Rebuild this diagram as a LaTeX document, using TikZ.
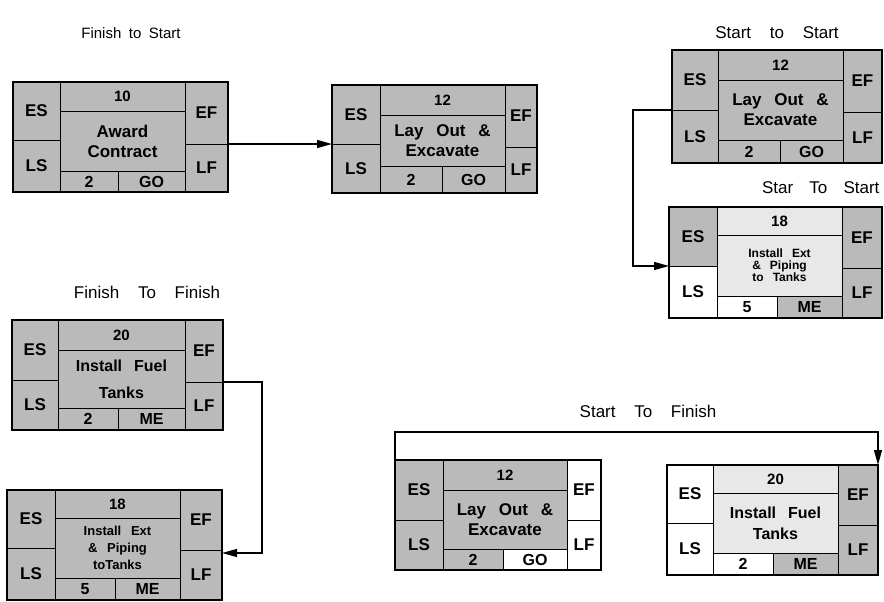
\documentclass[tikz,border=0pt]{standalone}
\usepackage{fontspec}
\setmainfont{Liberation Sans}
\usetikzlibrary{arrows.meta}
\newcommand\fsz[2]{\fontsize{#1}{#2}\selectfont\spaceskip=0.75em plus 0.1em\relax}
\newcommand\labf{\bfseries\fsz{17}{17}}
\newcommand\numf{\bfseries\fsz{15}{15}}
\newcommand\durf{\bfseries\fsz{16}{16}}
\newcommand\descf{\bfseries\fsz{17}{20}}
\newcommand\smallf{\bfseries\fsz{12}{12}}
\newcommand\smallfb{\bfseries\fsz{13}{17}}
\newcommand\fuelf{\bfseries\fsz{16}{27}}
\newcommand\fuelfb{\bfseries\fsz{16}{21}}
\newcommand\titf{\fontsize{17}{19}\selectfont\spaceskip=1.1em plus 0.1em\relax}
\newcommand\titnf{\fontsize{17}{19}\selectfont\spaceskip=0.95em plus 0.1em\relax}
\newcommand\titsf{\fontsize{15}{17}\selectfont\spaceskip=0.5em plus 0.1em\relax}
\colorlet{cellgray}{black!27}
\colorlet{celllite}{black!9}
\newcommand\cellnode[7]{\node[cellst,#1,minimum width=#5pt,minimum height=#6pt] (#2) at (#3,#4) {#7};}
\begin{document}
\begin{tikzpicture}[x=1pt,y=-1pt,
  cellst/.style={draw,line width=0.9pt,anchor=north west,inner sep=0pt,outer sep=0pt,align=center},
  outerst/.style={draw,line width=1.8pt,anchor=north west,inner sep=0pt,outer sep=0pt},
  conn/.style={line width=1.4pt,-{Triangle[length=15pt,width=8pt]}},
  title/.style={font=\titf}]
\useasboundingbox (0,0) rectangle (884,602);
% titles
\node[font=\titsf] (t1) at (131,33) {Finish to Start};
\node[title] (t2) at (777,33) {Start to Start};
\node[font=\titnf,anchor=east] (t3) at (883,188) {Star To Start};
\node[title] (t4) at (147,292) {Finish To Finish};
\node[title] (t5) at (648,411) {Start To Finish};
% Box A
\cellnode{fill=cellgray,font=\labf}{A-es}{13}{82}{47}{58}{ES}
\cellnode{fill=cellgray,font=\labf}{A-ls}{13}{140}{47}{52}{LS}
\cellnode{fill=cellgray,font=\numf}{A-num}{60}{82}{125}{29}{10}
\cellnode{fill=cellgray,font=\descf}{A-desc}{60}{111}{125}{60}{Award\\Contract}
\cellnode{fill=cellgray,font=\durf}{A-dur}{60}{171}{58}{21}{2}
\cellnode{fill=cellgray,font=\durf}{A-resp}{118}{171}{67}{21}{GO}
\cellnode{fill=cellgray,font=\labf}{A-ef}{185}{82}{43}{62}{EF}
\cellnode{fill=cellgray,font=\labf}{A-lf}{185}{144}{43}{48}{LF}
\node[outerst,minimum width=215pt,minimum height=110pt] (A) at (13,82) {};
% Box B
\cellnode{fill=cellgray,font=\labf}{B-es}{332}{85}{48}{59}{ES}
\cellnode{fill=cellgray,font=\labf}{B-ls}{332}{144}{48}{49}{LS}
\cellnode{fill=cellgray,font=\numf}{B-num}{380}{85}{125}{30}{12}
\cellnode{fill=cellgray,font=\descf}{B-desc}{380}{115}{125}{51}{Lay Out \&\\Excavate}
\cellnode{fill=cellgray,font=\durf}{B-dur}{380}{166}{62}{27}{2}
\cellnode{fill=cellgray,font=\durf}{B-resp}{442}{166}{63}{27}{GO}
\cellnode{fill=cellgray,font=\labf}{B-ef}{505}{85}{32}{62}{EF}
\cellnode{fill=cellgray,font=\labf}{B-lf}{505}{147}{32}{46}{LF}
\node[outerst,minimum width=205pt,minimum height=108pt] (B) at (332,85) {};
% Box C
\cellnode{fill=cellgray,font=\labf}{C-es}{672}{50}{46}{60}{ES}
\cellnode{fill=cellgray,font=\labf}{C-ls}{672}{110}{46}{53}{LS}
\cellnode{fill=cellgray,font=\numf}{C-num}{718}{50}{125}{30}{12}
\cellnode{fill=cellgray,font=\descf}{C-desc}{718}{80}{125}{60}{Lay Out \&\\Excavate}
\cellnode{fill=cellgray,font=\durf}{C-dur}{718}{140}{62}{23}{2}
\cellnode{fill=cellgray,font=\durf}{C-resp}{780}{140}{63}{23}{GO}
\cellnode{fill=cellgray,font=\labf}{C-ef}{843}{50}{39}{62}{EF}
\cellnode{fill=cellgray,font=\labf}{C-lf}{843}{112}{39}{51}{LF}
\node[outerst,minimum width=210pt,minimum height=113pt] (C) at (672,50) {};
% Box D
\cellnode{fill=cellgray,font=\labf}{D-es}{669}{207}{48}{59}{ES}
\cellnode{fill=white,font=\labf}{D-ls}{669}{266}{48}{52}{LS}
\cellnode{fill=celllite,font=\numf}{D-num}{717}{207}{125}{28}{18}
\cellnode{fill=celllite,font=\smallf}{D-desc}{717}{235}{125}{61}{Install Ext\\\& Piping\\to Tanks}
\cellnode{fill=white,font=\durf}{D-dur}{717}{296}{60}{22}{5}
\cellnode{fill=cellgray,font=\durf}{D-resp}{777}{296}{65}{22}{ME}
\cellnode{fill=cellgray,font=\labf}{D-ef}{842}{207}{40}{61}{EF}
\cellnode{fill=cellgray,font=\labf}{D-lf}{842}{268}{40}{50}{LF}
\node[outerst,minimum width=213pt,minimum height=111pt] (D) at (669,207) {};
% Box E
\cellnode{fill=cellgray,font=\labf}{E-es}{12}{320}{46}{60}{ES}
\cellnode{fill=cellgray,font=\labf}{E-ls}{12}{380}{46}{50}{LS}
\cellnode{fill=cellgray,font=\numf}{E-num}{58}{320}{127}{30}{20}
\cellnode{fill=cellgray,font=\fuelf}{E-desc}{58}{350}{127}{58}{Install Fuel\\Tanks}
\cellnode{fill=cellgray,font=\durf}{E-dur}{58}{408}{60}{22}{2}
\cellnode{fill=cellgray,font=\durf}{E-resp}{118}{408}{67}{22}{ME}
\cellnode{fill=cellgray,font=\labf}{E-ef}{185}{320}{38}{62}{EF}
\cellnode{fill=cellgray,font=\labf}{E-lf}{185}{382}{38}{48}{LF}
\node[outerst,minimum width=211pt,minimum height=110pt] (E) at (12,320) {};
% Box F
\cellnode{fill=cellgray,font=\labf}{F-es}{7}{490}{48}{58}{ES}
\cellnode{fill=cellgray,font=\labf}{F-ls}{7}{548}{48}{52}{LS}
\cellnode{fill=cellgray,font=\numf}{F-num}{55}{490}{125}{28}{18}
\cellnode{fill=cellgray,font=\smallfb}{F-desc}{55}{518}{125}{60}{Install Ext\\\& Piping\\toTanks}
\cellnode{fill=cellgray,font=\durf}{F-dur}{55}{578}{60}{22}{5}
\cellnode{fill=cellgray,font=\durf}{F-resp}{115}{578}{65}{22}{ME}
\cellnode{fill=cellgray,font=\labf}{F-ef}{180}{490}{42}{60}{EF}
\cellnode{fill=cellgray,font=\labf}{F-lf}{180}{550}{42}{50}{LF}
\node[outerst,minimum width=215pt,minimum height=110pt] (F) at (7,490) {};
% Box G
\cellnode{fill=cellgray,font=\labf}{G-es}{395}{460}{48}{60}{ES}
\cellnode{fill=cellgray,font=\labf}{G-ls}{395}{520}{48}{50}{LS}
\cellnode{fill=cellgray,font=\numf}{G-num}{443}{460}{124}{30}{12}
\cellnode{fill=cellgray,font=\descf}{G-desc}{443}{490}{124}{59}{Lay Out \&\\Excavate}
\cellnode{fill=cellgray,font=\durf}{G-dur}{443}{549}{60}{21}{2}
\cellnode{fill=white,font=\durf}{G-resp}{503}{549}{64}{21}{GO}
\cellnode{fill=white,font=\labf}{G-ef}{567}{460}{34}{60}{EF}
\cellnode{fill=white,font=\labf}{G-lf}{567}{520}{34}{50}{LF}
\node[outerst,minimum width=206pt,minimum height=110pt] (G) at (395,460) {};
% Box H
\cellnode{fill=white,font=\labf}{H-es}{667}{465}{46}{58}{ES}
\cellnode{fill=white,font=\labf}{H-ls}{667}{523}{46}{52}{LS}
\cellnode{fill=celllite,font=\numf}{H-num}{713}{465}{125}{28}{20}
\cellnode{fill=celllite,font=\fuelfb}{H-desc}{713}{493}{125}{60}{Install Fuel\\Tanks}
\cellnode{fill=white,font=\durf}{H-dur}{713}{553}{60}{22}{2}
\cellnode{fill=cellgray,font=\durf}{H-resp}{773}{553}{65}{22}{ME}
\cellnode{fill=cellgray,font=\labf}{H-ef}{838}{465}{40}{60}{EF}
\cellnode{fill=cellgray,font=\labf}{H-lf}{838}{525}{40}{50}{LF}
\node[outerst,minimum width=211pt,minimum height=110pt] (H) at (667,465) {};
% connectors
\draw[conn] (A-lf.north east) -- (B-ls.north west);
\draw[conn] (C-ls.north west) -- ++(-39,0) |- (D-ls.north west);
\draw[conn] (E-lf.north east) -- ++(39,0) |- ([yshift=-3pt]F-lf.north east);
\draw[conn] (G.north west) -- ++(0,-28) -| (H.north east);
\end{tikzpicture}
\end{document}
